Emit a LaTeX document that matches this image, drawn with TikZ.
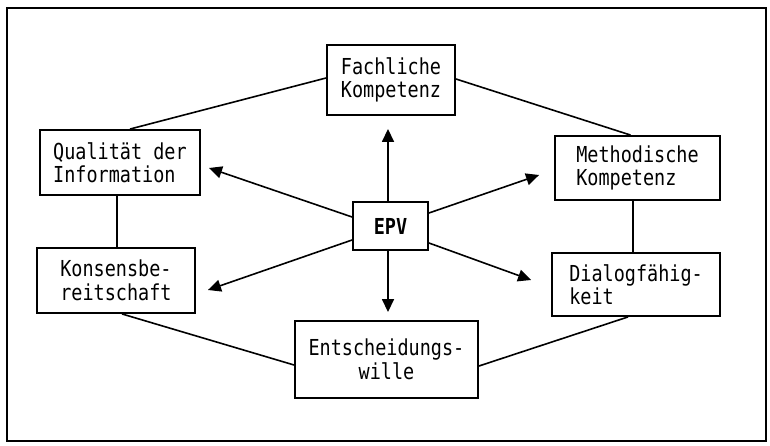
\documentclass[tikz,border=0pt]{standalone}
\usepackage{fontspec}
\newfontfamily\tw[FakeStretch=0.84]{DejaVu Sans Mono}
\usetikzlibrary{arrows.meta,calc}
\tikzset{
  box/.style={draw, line width=1.9pt, inner sep=0pt, align=left,
    font=\tw\fontsize{22}{23.5}\selectfont},
  link/.style={line width=1.6pt},
  arr/.style={line width=1.6pt, -{Triangle[length=13pt,width=12pt]}}
}
\begin{document}
\begin{tikzpicture}[x=1pt,y=-1pt]
\useasboundingbox (0,0) rectangle (770,446);
\draw[line width=1.9pt] (7,8) rectangle (766,441);
\node[box, minimum width=128pt, minimum height=70pt] (fach) at (391,80) {Fachliche\\Kompetenz};
\node[box, minimum width=160pt, minimum height=65pt] (qual) at (120,162.5) {Qualität der\\Information};
\node[box, minimum width=165pt, minimum height=64pt] (meth) at (637.5,168) {Methodische\\Kompetenz};
\node[box, minimum width=75pt, minimum height=48pt, font=\tw\bfseries\fontsize{22}{23.5}\selectfont] (epv) at (390.5,226) {EPV};
\node[box, minimum width=158pt, minimum height=65pt] (kons) at (116,280.5) {Konsensbe-\\reitschaft};
\node[box, minimum width=168pt, minimum height=63pt] (dial) at (636,284.5) {Dialogfähig-\\keit};
\node[box, align=center, minimum width=183pt, minimum height=77pt] (ents) at (386.5,359.5) {Entscheidungs-\\wille};
% ring connectors
\draw[link] ([xshift=10pt]qual.north) -- ([yshift=2pt]fach.west);
\draw[link] ([yshift=1pt]fach.east) -- ([xshift=-7pt]meth.north);
\draw[link] ([xshift=-3pt]qual.south) -- ([xshift=-3pt]qual.south |- kons.north);
\draw[link] ([xshift=-4.5pt]meth.south) -- ([xshift=-4.5pt]meth.south |- dial.north);
\draw[link] ([xshift=6pt]kons.south) -- ([yshift=-5.5pt]ents.west);
\draw[link] ([xshift=-8pt]dial.south) -- ([yshift=-6.5pt]ents.east);
% arrows from EPV
\draw[arr, shorten >=13pt] ([xshift=-2.5pt]epv.north) -- ([xshift=-2.5pt]epv.north |- fach.south);
\draw[arr, shorten >=8pt] ([xshift=-2.5pt]epv.south) -- ([xshift=-2.5pt]epv.south |- ents.north);
\draw[arr] ([yshift=9pt]epv.west) -- ([xshift=8pt,yshift=-5.5pt]qual.east);
\draw[arr] ([yshift=-14pt]epv.west) -- ([xshift=12pt,yshift=-9.5pt]kons.east);
\draw[arr] ([yshift=13pt]epv.east) -- ([xshift=-15pt,yshift=-7pt]meth.west);
\draw[arr] ([yshift=-17pt]epv.east) -- ([xshift=-20pt,yshift=4.5pt]dial.west);
\end{tikzpicture}
\end{document}
